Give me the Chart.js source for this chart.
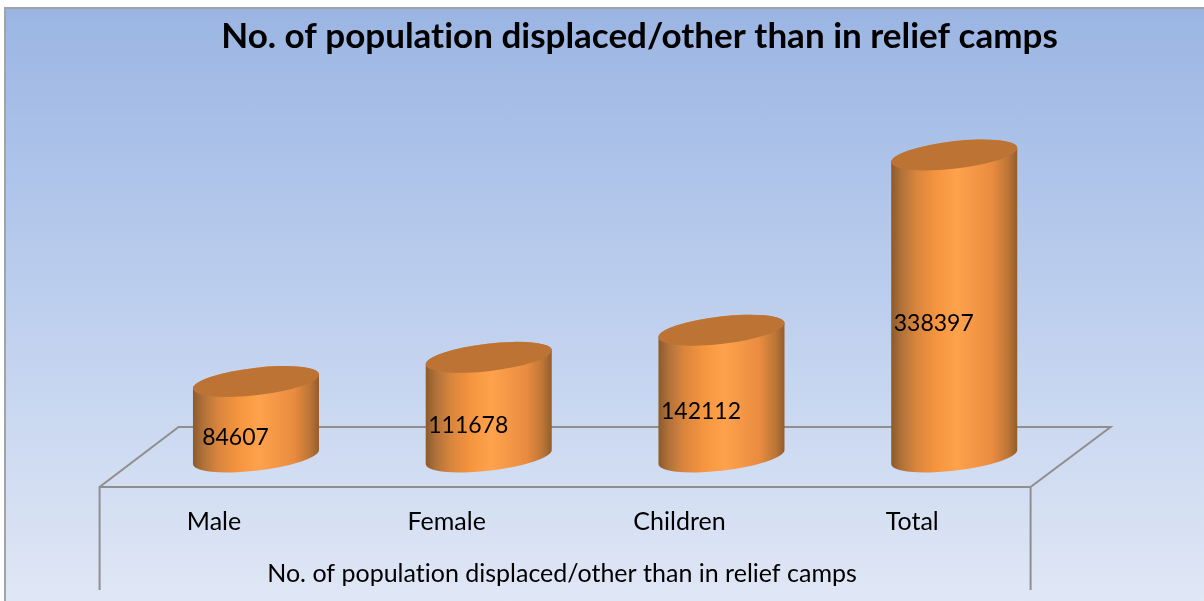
<!DOCTYPE html>
<html>
<head>
<meta charset="utf-8">
<title>No. of population displaced</title>
<script src="https://cdn.jsdelivr.net/npm/chart.js@4"></script>
<style>
    html, body { margin: 0; padding: 0; background: #fff; overflow: hidden; }
    #frame {
        position: absolute; left: 4px; top: 7px; width: 1200px; height: 594px;
        box-sizing: border-box;
        border-left: 2px solid #a3a3a3; border-top: 2px solid #a3a3a3;
        background: linear-gradient(to bottom, #9bb5e3 0%, #bdcfee 50%, #e0e7f5 100%);
    }
    canvas { position: absolute; left: 0; top: 0; }
</style>
</head>
<body>
<div id="frame"></div>
<canvas id="chart" width="1204" height="601"></canvas>
<script>
// Chart data
const categories = ["Male", "Female", "Children", "Total"];
const values = [84607, 111678, 142112, 338397];
const chartTitle = "No. of population displaced/other than in relief camps";
const axisTitle = "No. of population displaced/other than in relief camps";

const FONT = "Lato";
const TILT = -6.65 * Math.PI / 180;

// Pseudo 3D floor behind the bars
const floorPlugin = {
    id: "floor",
    beforeDatasetsDraw(chart) {
        const { ctx, chartArea } = chart;
        const y0 = chart.scales.y.getPixelForValue(0);
        const backY = y0 - 30, frontY = y0 + 30;
        const frontL = chartArea.left - 40, frontR = chartArea.right - 40;
        const backL = chartArea.left + 39, backR = chartArea.right + 40;
        ctx.save();
        ctx.strokeStyle = "#8f8f8f";
        ctx.lineWidth = 2;
        ctx.beginPath();
        ctx.moveTo(frontL, 590);
        ctx.lineTo(frontL, frontY);
        ctx.lineTo(backL, backY);
        ctx.lineTo(backR, backY);
        ctx.lineTo(frontR, frontY);
        ctx.lineTo(frontR, 590);
        ctx.moveTo(frontL, frontY);
        ctx.lineTo(frontR, frontY);
        ctx.stroke();
        ctx.restore();
    }
};

// Draws each bar as a tilted cylinder, from the bar element's own geometry
const cylinderPlugin = {
    id: "cylinder",
    afterDatasetsDraw(chart) {
        const { ctx } = chart;
        chart.getDatasetMeta(0).data.forEach((bar, i) => {
            const rx = bar.width / 2 + 0.4, ry = 13.7;
            const t0 = Math.atan2(-ry * Math.sin(TILT), rx * Math.cos(TILT));
            const left = bar.x - bar.width / 2, right = bar.x + bar.width / 2;

            const grad = ctx.createLinearGradient(left, 0, right, 0);
            grad.addColorStop(0, "#8c5a2a");
            grad.addColorStop(0.08, "#b0713a");
            grad.addColorStop(0.2, "#d9853d");
            grad.addColorStop(0.36, "#f5953f");
            grad.addColorStop(0.52, "#ffa24d");
            grad.addColorStop(0.8, "#ea8c40");
            grad.addColorStop(0.93, "#bb7536");
            grad.addColorStop(1, "#935d2b");

            ctx.beginPath();
            ctx.ellipse(bar.x, bar.base, rx, ry, TILT, t0, t0 + Math.PI);
            ctx.ellipse(bar.x, bar.y, rx, ry, TILT, t0 + Math.PI, t0 + 2 * Math.PI);
            ctx.closePath();
            ctx.fillStyle = grad;
            ctx.fill();

            ctx.beginPath();
            ctx.ellipse(bar.x, bar.y, rx, ry, TILT, 0, 2 * Math.PI);
            ctx.fillStyle = "#bc7334";
            ctx.fill();

            // value label
            ctx.fillStyle = "#000";
            ctx.font = "23px " + FONT;
            ctx.textAlign = "center";
            ctx.textBaseline = "middle";
            ctx.fillText(String(values[i]), bar.x - 20.5, (bar.y + bar.base) / 2 + 18);
        });
    }
};

// Title and axis caption sit off-centre in the original
const captionPlugin = {
    id: "captions",
    afterDraw(chart) {
        const { ctx } = chart;
        ctx.save();
        ctx.fillStyle = "#000";
        ctx.textAlign = "center";
        ctx.textBaseline = "middle";
        ctx.textRendering = "optimizeSpeed";
        ctx.font = "bold 35px " + FONT;
        ctx.fillText(chartTitle, 639.5, 37);
        ctx.font = "25px " + FONT;
        ctx.fillText(axisTitle, 562, 574);
        ctx.restore();
    }
};

new Chart(document.getElementById("chart").getContext("2d"), {
    type: "bar",
    data: {
        labels: categories,
        datasets: [{
            data: values,
            backgroundColor: "transparent",
            barPercentage: 0.5415,
            categoryPercentage: 1
        }]
    },
    options: {
        responsive: false,
        animation: false,
        layout: { padding: { left: 139.6, right: 133.4, top: 100, bottom: 0 } },
        plugins: { legend: { display: false }, title: { display: false }, tooltip: { enabled: false } },
        scales: {
            y: { display: false, min: 0, max: 400000 },
            x: {
                grid: { display: false },
                border: { display: false },
                afterFit(scale) { scale.height = 144; },
                ticks: {
                    color: "#000",
                    font: { family: FONT, size: 25 },
                    padding: 42,
                    labelOffset: -42,
                    maxRotation: 0,
                    autoSkip: false
                }
            }
        }
    },
    plugins: [floorPlugin, cylinderPlugin, captionPlugin]
});
</script>
</body>
</html>
